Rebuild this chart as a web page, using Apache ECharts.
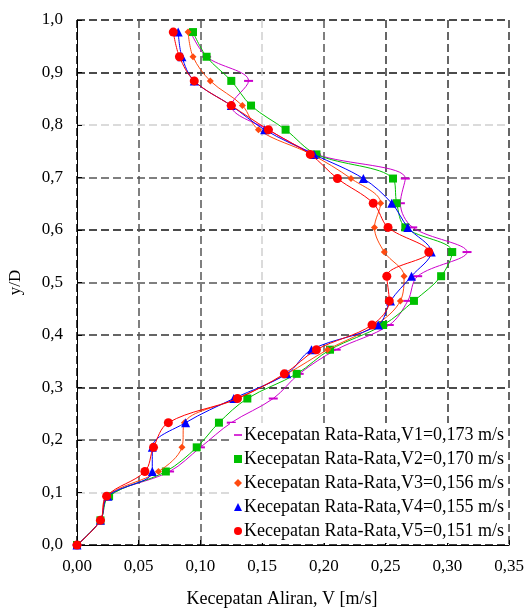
<!DOCTYPE html>
<html>
<head>
<meta charset="utf-8">
<script src="https://cdn.jsdelivr.net/npm/echarts@6/dist/echarts.min.js"></script>
<style>
html,body{margin:0;padding:0;background:#fff;}
#chart{width:529px;height:610px;}
</style>
</head>
<body>
<div id="chart"></div>
<script>
// y/D levels
var yLevels = [0, 0.047, 0.093, 0.140, 0.186, 0.233, 0.279, 0.326, 0.372, 0.419, 0.465, 0.512, 0.558, 0.605, 0.651, 0.698, 0.744, 0.791, 0.837, 0.884, 0.930, 0.977];
// velocities per series
var v1 = [0, 0.019, 0.025, 0.075, 0.100, 0.125, 0.159, 0.180, 0.210, 0.253, 0.268, 0.276, 0.316, 0.272, 0.262, 0.266, 0.194, 0.155, 0.125, 0.139, 0.105, 0.092];
var v2 = [0, 0.019, 0.026, 0.072, 0.097, 0.115, 0.138, 0.178, 0.205, 0.248, 0.273, 0.295, 0.304, 0.266, 0.259, 0.256, 0.194, 0.169, 0.141, 0.125, 0.105, 0.094];
var v3 = [0, 0.019, 0.024, 0.066, 0.085, 0.087, 0.130, 0.170, 0.203, 0.242, 0.262, 0.265, 0.249, 0.241, 0.246, 0.222, 0.190, 0.147, 0.134, 0.108, 0.094, 0.090];
var v4 = [0, 0.019, 0.025, 0.061, 0.061, 0.088, 0.127, 0.170, 0.190, 0.244, 0.254, 0.271, 0.287, 0.268, 0.255, 0.232, 0.192, 0.152, 0.125, 0.095, 0.085, 0.082];
var v5 = [0, 0.019, 0.024, 0.055, 0.062, 0.074, 0.130, 0.168, 0.194, 0.239, 0.253, 0.251, 0.285, 0.252, 0.240, 0.211, 0.189, 0.155, 0.125, 0.095, 0.083, 0.078];
var seriesNames = [
  'Kecepatan Rata-Rata,V1=0,173 m/s',
  'Kecepatan Rata-Rata,V2=0,170 m/s',
  'Kecepatan Rata-Rata,V3=0,156 m/s',
  'Kecepatan Rata-Rata,V4=0,155 m/s',
  'Kecepatan Rata-Rata,V5=0,151 m/s'
];
var xTicks = [0, 0.05, 0.10, 0.15, 0.20, 0.25, 0.30, 0.35];
var yTicks = [0, 0.1, 0.2, 0.3, 0.4, 0.5, 0.6, 0.7, 0.8, 0.9, 1.0];

var colors = ['#cc00cc', '#00c000', '#ff4a10', '#0000ff', '#ff0000'];
var symbols = ['rect', 'rect', 'diamond', 'triangle', 'circle'];
var sizes = [[9, 2], 8, 7, 9, 9];
var legendIcons = ['path://M0,4h10v2h-10z', 'rect', 'diamond', 'triangle', 'circle'];
var allV = [v1, v2, v3, v4, v5];

function pairs(xs) {
  return xs.map(function (x, i) { return [x, yLevels[i]]; });
}

var FONT = '"Liberation Serif", "Times New Roman", serif';
var series = allV.map(function (vs, i) {
  return {
    name: seriesNames[i],
    type: 'line',
    data: pairs(vs),
    smooth: 0.35,
    symbol: symbols[i],
    symbolSize: sizes[i],
    color: colors[i],
    lineStyle: { width: 1, color: colors[i] },
    itemStyle: { color: colors[i] },
    z: 3 + i,
    animation: false
  };
});

var chart = echarts.init(document.getElementById('chart'), null, { renderer: 'canvas' });
chart.setOption({
  backgroundColor: '#ffffff',
  animation: false,
  grid: { left: 77, right: 20, top: 20, bottom: 65, containLabel: false, outerBoundsMode: 'none' },
  legend: {
    orient: 'vertical',
    left: 230,
    top: 423,
    itemWidth: 8,
    itemHeight: 8,
    itemGap: 6,
    padding: [3, 4, 3, 4],
    backgroundColor: '#ffffff',
    z: 20,
    textStyle: { fontFamily: FONT, fontSize: 18, lineHeight: 18, color: '#000', padding: [0, 0, 0, -3] },
    data: seriesNames.map(function (n, i) { return { name: n, icon: legendIcons[i], itemStyle: { color: colors[i] } }; })
  },
  xAxis: {
    type: 'value',
    min: 0, max: 0.35, interval: 0.05,
    name: 'Kecepatan Aliran, V [m/s]',
    nameLocation: 'middle',
    nameGap: 45,
    nameTextStyle: { fontFamily: FONT, fontSize: 18, color: '#000', padding: [0, 22, 0, 0] },
    axisLine: { show: true, onZero: false, lineStyle: { color: '#000', width: 1 } },
    axisTick: { show: true, inside: true, length: 5, lineStyle: { color: '#000' } },
    axisLabel: {
      fontFamily: FONT, fontSize: 17, color: '#000', margin: 13,
      formatter: function (v) { return v.toFixed(2).replace('.', ','); }
    },
    splitLine: {
      show: true,
      lineStyle: {
        type: [8, 4], width: 1.5,
        color: ['#000000', '#555555', '#555555', '#cfcfcf', '#555555', '#333333', '#333333', '#333333']
      }
    }
  },
  yAxis: {
    type: 'value',
    min: 0, max: 1.0, interval: 0.1,
    name: 'y/D',
    nameLocation: 'middle',
    nameGap: 53,
    nameRotate: 90,
    nameTextStyle: { fontFamily: FONT, fontSize: 17, color: '#000' },
    axisLine: { show: true, onZero: false, lineStyle: { color: '#000', width: 1 } },
    axisTick: { show: true, inside: true, length: 5, lineStyle: { color: '#000' } },
    axisLabel: {
      fontFamily: FONT, fontSize: 17, color: '#000', margin: 14,
      formatter: function (v) { return v.toFixed(1).replace('.', ','); }
    },
    splitLine: {
      show: true,
      lineStyle: {
        type: [8, 4], width: 1.5,
        color: ['#000000', '#cfcfcf', '#555555', '#111111', '#333333', '#555555', '#111111', '#555555', '#cfcfcf', '#111111', '#111111']
      }
    }
  },
  series: series
});
</script>
</body>
</html>
